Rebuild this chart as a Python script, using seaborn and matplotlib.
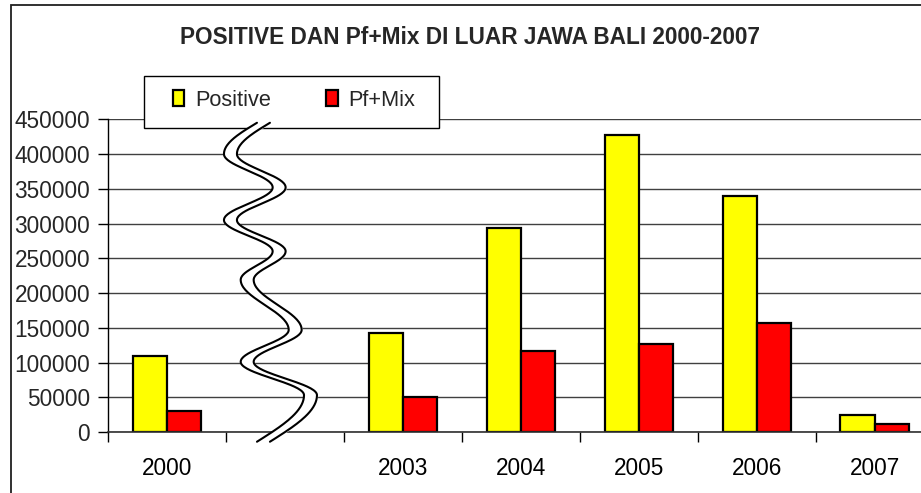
import numpy as np
import pandas as pd
import matplotlib
matplotlib.use("Agg")
import matplotlib.pyplot as plt
from matplotlib.patches import Rectangle
import seaborn as sns

# data (2001-2002 are not shown: the axis is broken there)
years = ["2000", "", "2003", "2004", "2005", "2006", "2007"]
positive = [110000, np.nan, 143000, 294000, 428000, 340000, 24000]
pf_mix = [30000, np.nan, 51000, 117000, 127000, 157000, 11000]
series_names = ["Positive", "Pf+Mix"]
colors = {"Positive": "#FFFF00", "Pf+Mix": "#FF0000"}
y_ticks = list(range(0, 450001, 50000))

# shape of the axis-break squiggle (x in category units, y in data units)
break_x = [0.761, 0.481, 0.894, 0.481, 0.894, 0.623, 1.030, 0.623, 1.160, 0.761]
break_y = [445000, 400000, 352000, 305000, 260000, 219000, 147000, 101000, 53000, -14000]
break_gap = 0.11

df = pd.DataFrame({"Year": years, "Positive": positive, "Pf+Mix": pf_mix})
df_melted = df.melt(id_vars="Year", var_name="Series", value_name="Value")

sns.set_theme(style="white")
plt.rcParams["font.family"] = ["Liberation Sans", "DejaVu Sans"]

fig = plt.figure(figsize=(9.21, 4.93), dpi=100)
ax = fig.add_axes([108.3 / 921, 61 / 493, 825.3 / 921, 312.7 / 493])

sns.barplot(
    data=df_melted,
    x="Year",
    y="Value",
    hue="Series",
    order=years,
    hue_order=series_names,
    palette=colors,
    saturation=1,
    width=0.58,
    edgecolor="black",
    linewidth=1.6,
    errorbar=None,
    ax=ax,
)

ax.set_xlim(-0.5, len(years) - 0.5)
ax.set_ylim(0, 450000)
ax.set_yticks(y_ticks)
ax.set_yticklabels([str(v) for v in y_ticks], fontsize=16.3)
ax.set_xticks(range(len(years)))
ax.set_xticklabels(years, fontsize=16.3)
ax.set_xticks(np.arange(-0.5, len(years), 1), minor=True)
ax.tick_params(axis="x", which="major", length=0, pad=18, colors="black")
ax.tick_params(axis="x", which="minor", length=7, width=1, color="black", bottom=True)
ax.tick_params(axis="y", which="major", length=7, width=1, color="black", left=True, pad=6)
ax.set_xlabel("")
ax.set_ylabel("")

ax.grid(axis="y", color="#404040", linewidth=1)
ax.set_axisbelow(True)
for side in ["top", "right"]:
    ax.spines[side].set_visible(False)
ax.spines["left"].set_color("black")
ax.spines["bottom"].set_color("#303030")
ax.spines["left"].set_linewidth(1)
ax.spines["bottom"].set_linewidth(1.2)

# axis break squiggle
def squiggle(xs, ys, n=40):
    px, py = [], []
    last = len(xs) - 2
    for i in range(len(xs) - 1):
        t = np.linspace(0, 1, n)
        if i == 0:
            e = np.sin(np.pi / 2 * t)
        elif i == last:
            e = 1 - np.cos(np.pi / 2 * t)
        else:
            e = (1 - np.cos(np.pi * t)) / 2
        px.extend(xs[i] + (xs[i + 1] - xs[i]) * e)
        py.extend(ys[i] + (ys[i + 1] - ys[i]) * t)
    return np.array(px), np.array(py)

wx, wy = squiggle(break_x, break_y)
ax.fill_betweenx(wy, wx, wx + break_gap, color="white", clip_on=False, zorder=6)
ax.plot(wx, wy, color="black", lw=1.5, clip_on=False, zorder=7)
ax.plot(wx + break_gap, wy, color="black", lw=1.5, clip_on=False, zorder=7)

# legend
handles, labels = ax.get_legend_handles_labels()
if ax.get_legend() is not None:
    ax.get_legend().remove()
ax.add_artist(Rectangle((144 / 921, 1 - 128 / 493), 295 / 921, 52 / 493,
                        transform=fig.transFigure, facecolor="white",
                        edgecolor="black", linewidth=1, clip_on=False, zorder=5))
leg = ax.legend(handles, labels, ncol=2, frameon=False, fontsize=15.7,
                loc="center left", bbox_to_anchor=(172.5 / 921, 1 - 100 / 493),
                bbox_transform=fig.transFigure, borderpad=0, borderaxespad=0,
                handlelength=0.55, handleheight=0.7, handletextpad=0.5,
                columnspacing=2.5)
leg.set_zorder(5.5)

fig.text(0.51, 1 - 37 / 493, "POSITIVE DAN Pf+Mix DI LUAR JAWA BALI 2000-2007",
         ha="center", va="center", fontsize=16.3, fontweight="bold")

# outer chart border (cut off at the right and bottom)
fig.patches.append(Rectangle((11 / 921, -0.2), 1.2, 1.2 - 5 / 493,
                             transform=fig.transFigure, fill=False,
                             edgecolor="#202020", linewidth=1.3))

fig.savefig("out.png", dpi=100)
